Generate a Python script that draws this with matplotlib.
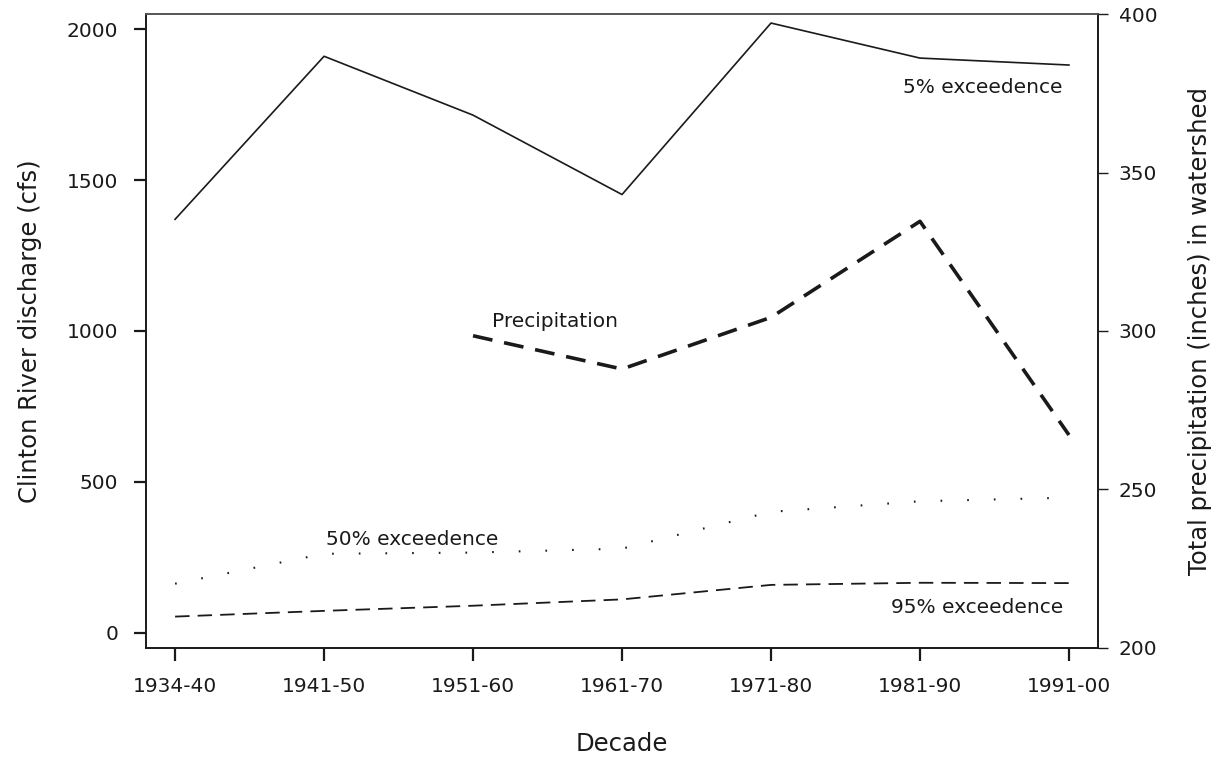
import matplotlib.pyplot as plt

plt.rcParams['font.family'] = ['DejaVu Sans']

decades = ['1934-40', '1941-50', '1951-60', '1961-70', '1971-80', '1981-90', '1991-00']
q5 = [1370, 1910, 1715, 1452, 2020, 1904, 1881]
q50 = [163, 262, 266, 279, 401, 436, 448]
q95 = [54, 73, 90, 111, 159, 166, 165]
precip_decades = ['1951-60', '1961-70', '1971-80', '1981-90', '1991-00']
precip = [298.5, 288, 304.3, 334.6, 267.2]

x = list(range(len(decades)))
xp = [decades.index(d) for d in precip_decades]

fig = plt.figure(figsize=(12.2, 7.57), dpi=100)
ax = fig.add_axes([0.1197, 0.144, 0.7803, 0.8375])
ax2 = ax.twinx()

ink = '#1a1a1a'
ax.plot(x, q5, color=ink, lw=1.2)
ax.plot(x, q50, color=ink, lw=1.5, linestyle=(0, (0.8, 12)))
ax.plot(x, q95, color=ink, lw=1.3, linestyle=(0, (8, 4.5)))
ax2.plot(xp, precip, color=ink, lw=2.6, linestyle=(0, (5.5, 3.3)))

ax.set_xlim(-0.195, 6.195)
ax.set_ylim(-50, 2050)
ax2.set_ylim(200, 400)

ax.set_xticks(x)
ax.set_xticklabels(decades)
ax.set_yticks([0, 500, 1000, 1500, 2000])
ax2.set_yticks([200, 250, 300, 350, 400])

fs = 14.5
ax.tick_params(axis='both', labelsize=fs, colors=ink, length=9, width=1.6)
ax.tick_params(axis='y', pad=11)
ax.tick_params(axis='x', pad=12)
ax2.tick_params(axis='y', labelsize=fs, colors=ink, length=7, width=1.0, pad=8)

for a in (ax, ax2):
    for s in a.spines.values():
        s.set_linewidth(1.2)
        s.set_color(ink)
ax.spines['top'].set_color('#555555')
ax2.spines['top'].set_color('#555555')

ax.set_xlabel('Decade', fontsize=17.5, color=ink, labelpad=26)
ax.set_ylabel('Clinton River discharge (cfs)', fontsize=17.5, color=ink, labelpad=18)
ax2.set_ylabel('Total precipitation (inches) in watershed', fontsize=17.5, color=ink, labelpad=22)

ax.text(5.96, 1805, '5% exceedence', fontsize=fs, color=ink, ha='right', va='center')
ax.text(2.13, 1030, 'Precipitation', fontsize=fs, color=ink, ha='left', va='center')
ax.text(1.01, 308, '50% exceedence', fontsize=fs, color=ink, ha='left', va='center')
ax.text(5.96, 83, '95% exceedence', fontsize=fs, color=ink, ha='right', va='center')

fig.savefig('out.png', dpi=100)
